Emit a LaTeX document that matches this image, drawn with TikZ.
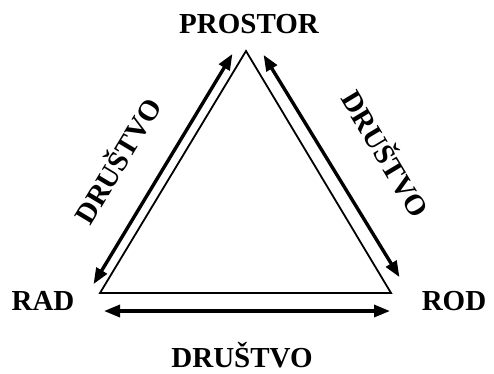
\documentclass[tikz,border=0pt]{standalone}
\usepackage{fontspec}
\setmainfont{Liberation Serif}
\usetikzlibrary{arrows.meta,calc,positioning}
\tikzset{lbl/.style={font=\fontsize{29}{31}\selectfont\bfseries,inner sep=0pt},
  arr/.style={{Triangle[length=16pt,width=12pt]}-{Triangle[length=16pt,width=12pt]},line width=3.4pt,shorten <=1pt,shorten >=1pt},
  edge/.style={line width=1.8pt,line join=miter}}
\begin{document}
\begin{tikzpicture}[x=1pt,y=-1pt]
\useasboundingbox (0,0) rectangle (494,373);
\coordinate (top) at (246,51);
\coordinate (bl) at (100,293);
\coordinate (br) at (391,293);
\draw[edge] (top)--(bl)--(br)--cycle;
% arrows along the sides
\coordinate (la) at (233,53); \coordinate (lb) at (93,285);
\coordinate (ra) at (263,54); \coordinate (rb) at (400,278);
\coordinate (ba) at (103,311); \coordinate (bb) at (391,311);
\draw[arr] (la)--(lb);
\draw[arr] (ra)--(rb);
\draw[arr] (ba)--(bb);
\node[lbl,anchor=base] (prostor) at (249,33) {PROSTOR};
\node[lbl,anchor=base] (rad) at (43,310) {RAD};
\node[lbl,anchor=base] (rod) at (454,310) {ROD};
\node[lbl,anchor=base] (drustvoB) at (242,367) {DRUŠTVO};
\node[lbl,rotate=59] (drustvoL) at (116,160) {DRUŠTVO};
\node[lbl,rotate=-59] (drustvoR) at (387,153) {DRUŠTVO};
\end{tikzpicture}
\end{document}
